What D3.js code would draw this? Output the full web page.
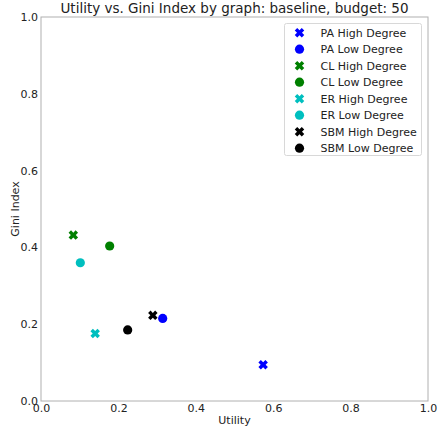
<!DOCTYPE html>
<html><head><meta charset="utf-8">
<script src="https://cdn.jsdelivr.net/npm/d3@7"></script>
<style>body{margin:0;background:#fff}svg{display:block}text{font-family:"DejaVu Sans",sans-serif;fill:#222}</style>
</head><body>
<svg id="c" width="438" height="430"></svg>
<script>
const labels = ["PA High Degree","PA Low Degree","CL High Degree","CL Low Degree","ER High Degree","ER Low Degree","SBM High Degree","SBM Low Degree"];
const utility = [0.574, 0.3145, 0.0835, 0.1775, 0.140, 0.1016, 0.289, 0.224];
const gini = [0.0945, 0.215, 0.432, 0.4036, 0.176, 0.360, 0.223, 0.185];
const colors = ["#0000ff","#0000ff","#008000","#008000","#00bfbf","#00bfbf","#000000","#000000"];
const shapes = ["X","circle","X","circle","X","circle","X","circle"];
const ticks = [0,0.2,0.4,0.6,0.8,1.0];

const svg = d3.select("#c");
const L=41,R=428,T=17,B=401;
const x = d3.scaleLinear().domain([0,1]).range([L,R]);
const y = d3.scaleLinear().domain([0,1]).range([B,T]);

svg.append("rect").attr("x",L).attr("y",T).attr("width",R-L).attr("height",B-T)
  .attr("fill","none").attr("stroke","#b0b0b0").attr("stroke-width",1);

const xa = svg.append("g").attr("transform",`translate(0,${B})`)
  .call(d3.axisBottom(x).tickValues(ticks).tickFormat(d3.format(".1f")).tickSize(0).tickPadding(3));
const ya = svg.append("g").attr("transform",`translate(${L},0)`)
  .call(d3.axisLeft(y).tickValues(ticks).tickFormat(d3.format(".1f")).tickSize(0).tickPadding(3));
[xa,ya].forEach(a=>{a.select(".domain").remove();a.selectAll("text").attr("font-size",11).attr("font-family","DejaVu Sans").attr("fill","#222");});

svg.append("text").attr("x",(L+R)/2).attr("y",13).attr("text-anchor","middle").attr("font-size",13.5).text("Utility vs. Gini Index by graph: baseline, budget: 50");
svg.append("text").attr("x",(L+R)/2).attr("y",424).attr("text-anchor","middle").attr("font-size",11).text("Utility");
svg.append("text").attr("transform",`translate(19,${(T+B)/2}) rotate(-90)`).attr("text-anchor","middle").attr("font-size",11).text("Gini Index");

function xPath(s){
  const a=s*0.5, w=s*0.26;
  const pts=[[-a,-a+w],[-a+w,-a],[0,-w],[a-w,-a],[a,-a+w],[w,0],[a,a-w],[a-w,a],[0,w],[-a+w,a],[-a,a-w],[-w,0]];
  return "M"+pts.map(p=>p.join(",")).join("L")+"Z";
}
function drawMarker(g,shape,color,cx,cy){
  if(shape==="circle") g.append("circle").attr("cx",cx).attr("cy",cy).attr("r",4.6).attr("fill",color);
  else g.append("path").attr("d",xPath(9.5)).attr("transform",`translate(${cx},${cy})`).attr("fill",color);
}
const pg = svg.append("g");
labels.forEach((l,i)=>drawMarker(pg,shapes[i],colors[i],x(utility[i]),y(gini[i])));

const lg = svg.append("g");
lg.append("rect").attr("x",284.5).attr("y",23.5).attr("width",137).attr("height",132).attr("rx",2)
  .attr("fill","#fff").attr("fill-opacity",0.8).attr("stroke","#d8d8d8");
labels.forEach((l,i)=>{
  const cy = 32.7 + i*16.5;
  drawMarker(lg,shapes[i],colors[i],299.5,cy);
  lg.append("text").attr("x",320.5).attr("y",cy+4).attr("font-size",11).text(l);
});
</script>
</body></html>
